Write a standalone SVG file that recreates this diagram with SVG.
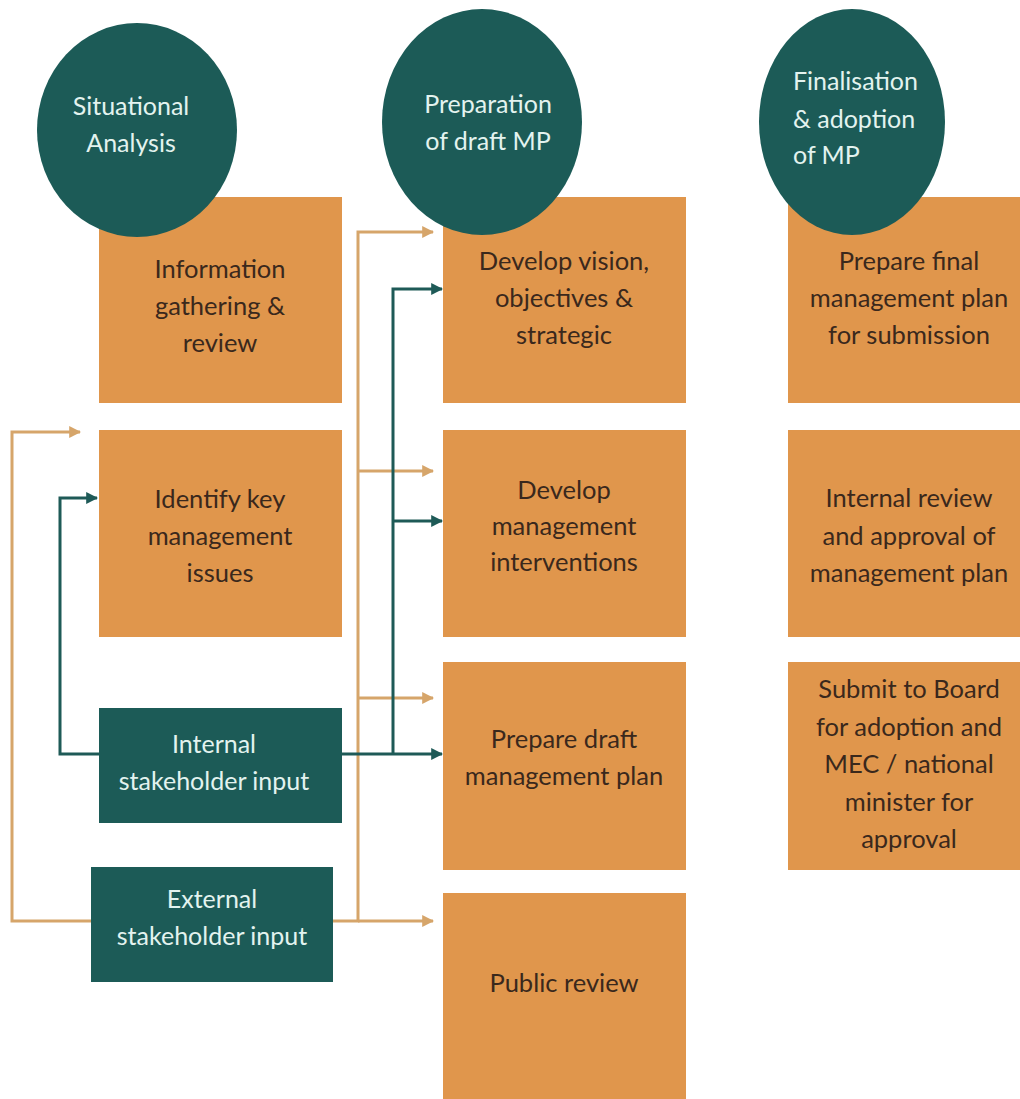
<svg xmlns="http://www.w3.org/2000/svg" width="1020" height="1099" viewBox="0 0 1020 1099">
  <defs>
    <marker id="arrOrange" viewBox="0 0 10 10" refX="9" refY="5" markerWidth="4" markerHeight="4" orient="auto" markerUnits="strokeWidth">
      <path d="M0,0 L10,5 L0,10 z" fill="#d6a56a"/>
    </marker>
    <marker id="arrTeal" viewBox="0 0 10 10" refX="9" refY="5" markerWidth="4" markerHeight="4" orient="auto" markerUnits="strokeWidth">
      <path d="M0,0 L10,5 L0,10 z" fill="#1e5a57"/>
    </marker>
    <style>
      .step { fill: #e0964c; }
      .phase { fill: #1c5b57; }
      .input { fill: #1c5b57; }
      .t-step { font-family: Lato, "Open Sans", "Liberation Sans", sans-serif; font-size: 25.5px; fill: #3a281c; text-anchor: middle; }
      .t-light { font-family: Lato, "Open Sans", "Liberation Sans", sans-serif; font-size: 25px; fill: #e3f3ef; }
      .mid { text-anchor: middle; }
      .c-orange { fill: none; stroke: #d6a56a; stroke-width: 3; }
      .c-teal { fill: none; stroke: #1e5a57; stroke-width: 3; }
    </style>
  </defs>
  <rect width="1020" height="1099" fill="#ffffff"/>

  <!-- Column 1: situational analysis -->
  <g id="info-gathering">
    <rect class="step" x="99" y="197" width="243" height="206"/>
    <text class="t-step" x="220" y="278">Information</text>
    <text class="t-step" x="220" y="315">gathering &amp;</text>
    <text class="t-step" x="220" y="352">review</text>
  </g>
  <g id="identify-issues">
    <rect class="step" x="99" y="430" width="243" height="207"/>
    <text class="t-step" x="220" y="508">Identify key</text>
    <text class="t-step" x="220" y="545">management</text>
    <text class="t-step" x="220" y="582">issues</text>
  </g>
  <g id="internal-input">
    <rect class="input" x="99" y="708" width="243" height="115"/>
    <text class="t-light mid" x="214" y="753">Internal</text>
    <text class="t-light mid" x="214" y="790">stakeholder input</text>
  </g>
  <g id="external-input">
    <rect class="input" x="91" y="867" width="242" height="115"/>
    <text class="t-light mid" x="212" y="908">External</text>
    <text class="t-light mid" x="212" y="945">stakeholder input</text>
  </g>

  <!-- Column 2: draft management plan -->
  <g id="develop-vision">
    <rect class="step" x="443" y="197" width="243" height="206"/>
    <text class="t-step" x="564" y="270">Develop vision,</text>
    <text class="t-step" x="564" y="307">objectives &amp;</text>
    <text class="t-step" x="564" y="344">strategic</text>
  </g>
  <g id="develop-interventions">
    <rect class="step" x="443" y="430" width="243" height="207"/>
    <text class="t-step" x="564" y="499">Develop</text>
    <text class="t-step" x="564" y="535">management</text>
    <text class="t-step" x="564" y="571">interventions</text>
  </g>
  <g id="prepare-draft">
    <rect class="step" x="443" y="662" width="243" height="208"/>
    <text class="t-step" x="564" y="748">Prepare draft</text>
    <text class="t-step" x="564" y="785">management plan</text>
  </g>
  <g id="public-review">
    <rect class="step" x="443" y="893" width="243" height="210"/>
    <text class="t-step" x="564" y="992">Public review</text>
  </g>

  <!-- Column 3: finalisation -->
  <g id="prepare-final">
    <rect class="step" x="788" y="197" width="243" height="206"/>
    <text class="t-step" x="909" y="270">Prepare final</text>
    <text class="t-step" x="909" y="307">management plan</text>
    <text class="t-step" x="909" y="344">for submission</text>
  </g>
  <g id="internal-review">
    <rect class="step" x="788" y="430" width="243" height="207"/>
    <text class="t-step" x="909" y="507">Internal review</text>
    <text class="t-step" x="909" y="545">and approval of</text>
    <text class="t-step" x="909" y="582">management plan</text>
  </g>
  <g id="submit-board">
    <rect class="step" x="788" y="662" width="243" height="208"/>
    <text class="t-step" x="909" y="698">Submit to Board</text>
    <text class="t-step" x="909" y="736">for adoption and</text>
    <text class="t-step" x="909" y="773">MEC / national</text>
    <text class="t-step" x="909" y="811">minister for</text>
    <text class="t-step" x="909" y="848">approval</text>
  </g>

  <!-- Connectors -->
  <g id="connectors">
    <!-- external input feeds -->
    <path class="c-orange" d="M91,921 H12 V432 H80" marker-end="url(#arrOrange)"/>
    <path class="c-orange" d="M333,921 H358 V232 H433" marker-end="url(#arrOrange)"/>
    <path class="c-orange" d="M358,471 H433" marker-end="url(#arrOrange)"/>
    <path class="c-orange" d="M358,698 H433" marker-end="url(#arrOrange)"/>
    <path class="c-orange" d="M358,921 H433" marker-end="url(#arrOrange)"/>
    <!-- internal input feeds -->
    <path class="c-teal" d="M99,754 H60 V498 H97" marker-end="url(#arrTeal)"/>
    <path class="c-teal" d="M342,754 H442" marker-end="url(#arrTeal)"/>
    <path class="c-teal" d="M393,754 V289 H442" marker-end="url(#arrTeal)"/>
    <path class="c-teal" d="M393,521 H442" marker-end="url(#arrTeal)"/>
  </g>

  <!-- Phase headers -->
  <g id="phase-situational">
    <ellipse class="phase" cx="137" cy="130" rx="100" ry="107"/>
    <text class="t-light mid" x="131" y="115">Situational</text>
    <text class="t-light mid" x="131" y="152">Analysis</text>
  </g>
  <g id="phase-draft">
    <ellipse class="phase" cx="482" cy="122" rx="100" ry="113"/>
    <text class="t-light mid" x="488" y="113">Preparation</text>
    <text class="t-light mid" x="488" y="150">of draft MP</text>
  </g>
  <g id="phase-final">
    <ellipse class="phase" cx="852" cy="122" rx="93" ry="113"/>
    <text class="t-light" x="793" y="90">Finalisation</text>
    <text class="t-light" x="793" y="128">&amp; adoption</text>
    <text class="t-light" x="793" y="164">of MP</text>
  </g>
</svg>
